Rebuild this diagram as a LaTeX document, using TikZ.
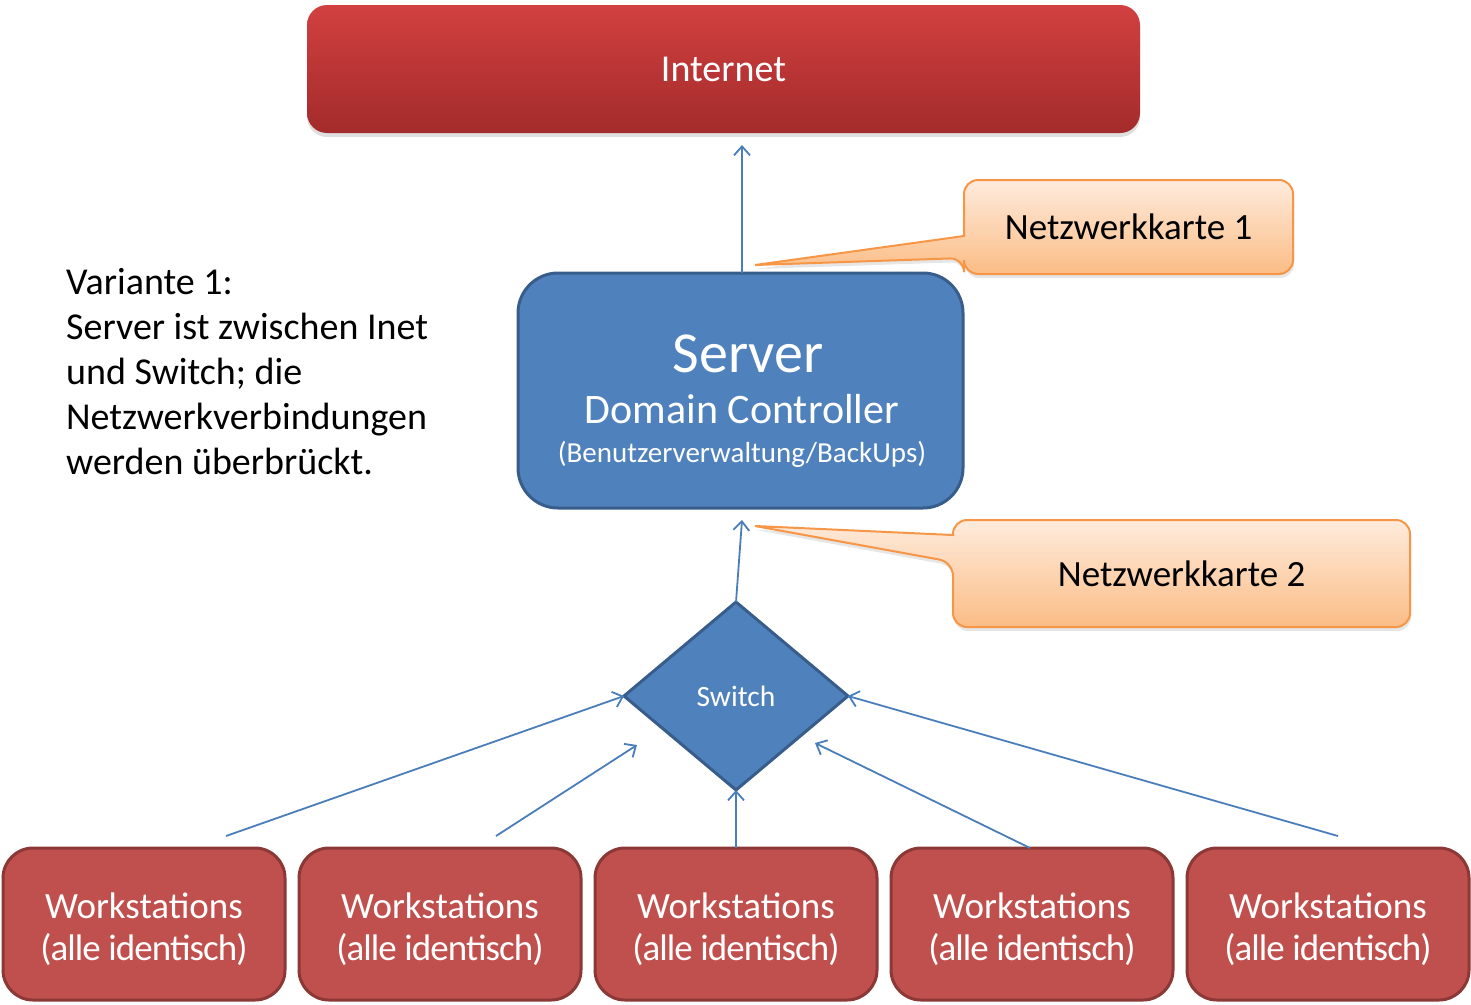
\documentclass[tikz,border=0pt]{standalone}
\usepackage{fontspec}
\setmainfont{Carlito}
\usepackage{xcolor}
\usetikzlibrary{positioning,arrows.meta,shapes.geometric,shadows,backgrounds,calc}

\definecolor{inetTop}{HTML}{D24040}
\definecolor{inetBot}{HTML}{A32B2B}
\definecolor{srvBlue}{HTML}{4F81BD}
\definecolor{srvLine}{HTML}{385D8A}
\definecolor{wsRed}{HTML}{C0504D}
\definecolor{wsLine}{HTML}{8C3836}
\definecolor{nkTop}{HTML}{FEEBDC}
\definecolor{nkBot}{HTML}{FBBD86}
\definecolor{nkLine}{HTML}{F79646}
\definecolor{linkBlue}{HTML}{4A7EBB}

\tikzset{
  inetbox/.style={rounded corners=20pt, top color=inetTop, bottom color=inetBot,
    minimum width=833pt, minimum height=128pt, outer sep=0pt, text=white,
    font=\fontsize{38}{44}\selectfont,
    drop shadow={shadow xshift=0pt, shadow yshift=-4pt, opacity=0.25}},
  srvbox/.style={rounded corners=40pt, fill=srvBlue, draw=srvLine, line width=3pt,
    minimum width=445pt, minimum height=235pt, outer sep=0pt},
  srvtext/.style={text=white, inner sep=0pt, anchor=base},
  swbox/.style={diamond, fill=srvBlue, draw=srvLine, line width=3pt, minimum width=224pt,
    minimum height=188pt, inner sep=0pt, outer sep=0pt, text=white,
    font=\fontsize{29.5}{32}\selectfont},
  wsbox/.style={rounded corners=30pt, fill=wsRed, draw=wsLine, line width=3pt,
    minimum width=282pt, minimum height=152pt, outer sep=0pt},
  wstext/.style={text=white, align=center, inner sep=0pt, font=\fontsize{37}{42}\selectfont},
  nklabel/.style={inner sep=0pt, outer sep=0pt, font=\fontsize{37}{42}\selectfont},
  nkshape/.style={top color=nkTop, bottom color=nkBot, draw=nkLine, line width=2pt,
    drop shadow={shadow xshift=1pt, shadow yshift=-4pt, opacity=0.2}},
  link/.style={draw=linkBlue, line width=1.8pt, -{Straight Barb[length=9pt,width=16pt]}},
}

\begin{document}
\begin{tikzpicture}[x=1pt,y=-1pt]
    \useasboundingbox (0,0) rectangle (1471,1004);

    % Internet and server
    \node[inetbox] (inet) at (723.5,69) {\raisebox{-3pt}{Internet}};
    \node[srvbox] (srv) at (740.5,390.5) {};
    \node[srvtext, font=\fontsize{58}{58}\selectfont] (srvname) at (748,372) {Server};
    \node[srvtext, font=\fontsize{42}{42}\selectfont] (srvrole) at (742,423) {Domain Controller};
    \node[srvtext, font=\fontsize{29}{29}\selectfont] (srvtask) at (742,462) {(Benutzerverwaltung/BackUps)};

    % Switch
    \node[swbox] (sw) at (736,696) {\raisebox{-2pt}{Switch}};

    % Workstations
    \foreach \i in {1,...,5} {
        \pgfmathsetmacro{\x}{144 + (\i-1)*296}
        \node[wsbox] (ws\i) at (\x,924) {};
        \node[wstext] (wst\i) at ([yshift=-5pt]ws\i.center)
            {Workstations\\{\addfontfeature{LetterSpace=-2.5}(alle identisch)}};
    }

    % Note on the left
    \node[anchor=north west, align=left, inner sep=0pt, font=\fontsize{38}{45}\selectfont]
        (note) at (66,268) {Variante 1:\\Server ist zwischen Inet\\und Switch; die\\Netzwerkverbindungen\\werden überbrückt.};

    % Callouts for the network cards
    \node[nklabel, minimum width=329pt, minimum height=94pt] (nk1) at (1128.5,227) {Netzwerkkarte 1};
    \node[nklabel, minimum width=457pt, minimum height=107pt] (nk2) at (1181.5,573.5) {Netzwerkkarte 2};
    \coordinate (tip1) at (755,265);
    \coordinate (tip2) at (755,526);
    \begin{scope}[on background layer]
        \path[nkshape] ($(nk1.north west)+(0,56)$) [rounded corners=14pt]
            -- (nk1.north west) -- (nk1.north east) -- (nk1.south east) -- (nk1.south west)
            -- ($(nk1.north west)+(0,78)$) [sharp corners] -- (tip1) -- cycle;
        \path[nkshape] ($(nk2.north west)+(0,15)$) [rounded corners=14pt]
            -- (nk2.north west) -- (nk2.north east) -- (nk2.south east) -- (nk2.south west)
            -- ($(nk2.north west)+(0,42)$) [sharp corners] -- (tip2) -- cycle;
    \end{scope}

    % Connections
    \draw[link, shorten >=12pt] ([xshift=1.5pt]srv.north) -- ([xshift=1.5pt]srv.north |- inet.south);
    \draw[link] (sw.north) -- ([xshift=1.5pt,yshift=-12pt]srv.south);
    \coordinate (out1) at (226,836);
    \coordinate (out2) at (496,836);
    \coordinate (out4) at (1030,848);
    \coordinate (out5) at (1338,836);
    \coordinate (in2) at (637,745);
    \coordinate (in4) at (815,743);
    \draw[link] (out1) -- (sw.west);
    \draw[link] (out2) -- (in2);
    \draw[link] (ws3.north) -- (sw.south);
    \draw[link] (out4) -- (in4);
    \draw[link] (out5) -- (sw.east);
\end{tikzpicture}
\end{document}
